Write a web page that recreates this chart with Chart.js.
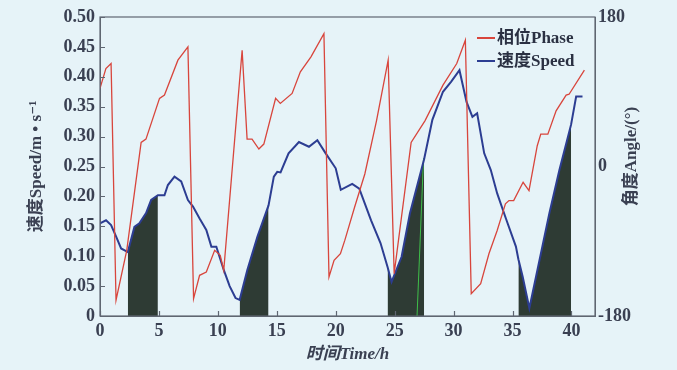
<!DOCTYPE html>
<html>
<head>
<meta charset="utf-8">
<script src="https://cdn.jsdelivr.net/npm/chart.js@4.4.0/dist/chart.umd.min.js"></script>
<style>
  html, body { margin: 0; padding: 0; background: #e6f3f8; }
  canvas { display: block; }
</style>
</head>
<body>
<canvas id="phaseChart" width="677" height="370"></canvas>
<script>
// speed (m/s) sampled along time (h)
const speedTime = [0, 0.51, 0.94, 1.36, 1.79, 2.36, 2.92, 3.34, 3.91, 4.34, 4.91, 5.47, 5.76, 6.32, 6.89, 7.46, 7.89,
  8.45, 9.02, 9.45, 9.87, 10.5, 11.0, 11.5, 11.85, 12.5, 13.36, 14.3, 14.75, 15.04, 15.32, 16.0, 16.88, 17.73, 18.44,
  19.15, 20.0, 20.43, 21.4, 22.0, 23.0, 23.8, 24.4, 24.74, 25.59, 26.3, 27.5, 28.2, 29.1, 29.8, 30.5, 31.1, 31.6,
  32.0, 32.6, 33.16, 33.7, 34.44, 35.29, 35.5, 35.86, 36.43, 37.0, 38.13, 38.98, 39.97, 40.4, 40.94];
const speedValues = [0.155, 0.160, 0.152, 0.133, 0.113, 0.107, 0.149, 0.155, 0.172, 0.194, 0.202, 0.202, 0.219, 0.233,
  0.225, 0.194, 0.183, 0.163, 0.144, 0.116, 0.116, 0.077, 0.05, 0.03, 0.027, 0.077, 0.133, 0.185, 0.233, 0.241, 0.24,
  0.272, 0.291, 0.283, 0.294, 0.272, 0.247, 0.211, 0.221, 0.213, 0.16, 0.122, 0.082, 0.057, 0.099, 0.172, 0.262,
  0.328, 0.375, 0.392, 0.411, 0.358, 0.333, 0.339, 0.272, 0.244, 0.205, 0.163, 0.116, 0.095, 0.066, 0.013, 0.066,
  0.172, 0.244, 0.32, 0.367, 0.367];

// phase angle (deg)
const phaseTime = [0, 0.5, 0.94, 1.36, 2.27, 3.49, 3.9, 5.05, 5.47, 6.61, 7.46, 7.94, 8.45, 9.02, 9.73, 10.2, 10.5,
  12.06, 12.48, 12.9, 13.48, 13.9, 14.9, 15.3, 16.3, 17.0, 17.9, 19.0, 19.43, 19.86, 20.4, 20.77, 21.6, 22.47, 23.46,
  24.45, 24.96, 26.4, 27.57, 29.1, 30.27, 31.0, 31.5, 32.3, 33.0, 33.7, 34.4, 34.7, 35.1, 35.9, 36.4, 37.1, 37.4,
  38.0, 38.7, 39.55, 39.8, 41.1];
const phaseValues = [94, 118, 124, -161, -101, 29, 33, 82, 86, 128, 144, -159, -131, -127, -101, -107, -125,
  140, 33, 33, 21, 27, 82, 76, 88, 114, 132, 160, -133, -113, -105, -89, -49, -9, 55,
  128, -129, 29, 55, 98, 124, 152, -153, -141, -105, -77, -45, -41, -41, -19, -29, 25, 39,
  39, 67, 86, 87, 116];

// shaded windows under the speed curve (h)
const shadedRanges = [[2.36, 4.91], [11.85, 14.3], [24.4, 27.5], [35.5, 39.97]];

// thin marker line
const markerTime = [26.9, 27.45];
const markerSpeed = [0, 0.264];

const xTicks = [0, 5, 10, 15, 20, 25, 30, 35, 40];
const speedTicks = [0, 0.05, 0.1, 0.15, 0.2, 0.25, 0.3, 0.35, 0.4, 0.45, 0.5];
const angleTicks = [-180, 0, 180];

const seriesLabels = ['相位Phase', '速度Speed'];
const redColor = '#d8453c';
const blueColor = '#2c3d92';
const shadeColor = '#2e3b34';
const inkColor = '#3a4052';
const frameColor = '#5f6672';
const serif = "'Liberation Serif', 'DejaVu Serif', 'Noto Sans CJK SC', serif";

const pts = (xs, ys) => xs.map((x, i) => ({ x: x, y: ys[i] }));

const speedPoints = pts(speedTime, speedValues);
const shadeSets = shadedRanges.map(([a, b]) => ({
  data: speedPoints.filter(p => p.x >= a && p.x <= b),
  yAxisID: 'y',
  borderWidth: 0,
  backgroundColor: shadeColor,
  fill: 'origin'
}));

const keepTicks = list => scale => {
  scale.ticks = list.map(v => ({ value: v }));
};

const tickFont = { family: serif, size: 18, weight: 'bold' };

// frame, inward ticks, legend and right-hand title
const framePlugin = {
  id: 'frame',
  afterDraw(chart) {
    const { ctx, chartArea: a, scales } = chart;
    ctx.save();
    ctx.strokeStyle = frameColor;
    ctx.lineWidth = 1.2;
    ctx.strokeRect(a.left, a.top, a.right - a.left, a.bottom - a.top);

    ctx.beginPath();
    scales.y.ticks.forEach(t => {
      const yy = Math.round(scales.y.getPixelForValue(t.value)) + 0.5;
      ctx.moveTo(a.left, yy);
      ctx.lineTo(a.left + 5, yy);
    });
    scales.x.ticks.forEach(t => {
      const xx = Math.round(scales.x.getPixelForValue(t.value)) + 0.5;
      ctx.moveTo(xx, a.bottom);
      ctx.lineTo(xx, a.bottom - 5);
    });
    ctx.stroke();

    // legend
    ctx.font = 'bold 17px ' + serif;
    ctx.textBaseline = 'middle';
    ctx.textAlign = 'left';
    [redColor, blueColor].forEach((c, i) => {
      const yy = 38 + i * 23;
      ctx.strokeStyle = c;
      ctx.lineWidth = 2;
      ctx.beginPath();
      ctx.moveTo(477, yy);
      ctx.lineTo(495, yy);
      ctx.stroke();
      ctx.fillStyle = '#2a3042';
      ctx.fillText(seriesLabels[i], 497, yy + 1);
    });

    // right axis title reads bottom-to-top
    ctx.translate(632, (a.top + a.bottom) / 2 - 10);
    ctx.rotate(-Math.PI / 2);
    ctx.textAlign = 'center';
    ctx.fillStyle = inkColor;
    ctx.fillText('角度Angle/(°)', 0, 0);
    ctx.restore();
  }
};

new Chart(document.getElementById('phaseChart').getContext('2d'), {
  type: 'line',
  data: {
    datasets: [
      {
        label: seriesLabels[0],
        data: pts(phaseTime, phaseValues),
        yAxisID: 'y1',
        borderColor: redColor,
        borderWidth: 1.3,
        fill: false
      },
      {
        label: seriesLabels[1],
        data: speedPoints,
        yAxisID: 'y',
        borderColor: blueColor,
        borderWidth: 2,
        fill: false
      },
      {
        data: pts(markerTime, markerSpeed),
        yAxisID: 'y',
        borderColor: '#3fbf4a',
        borderWidth: 1,
        fill: false
      },
      ...shadeSets
    ]
  },
  options: {
    responsive: false,
    animation: false,
    layout: { padding: { top: 17, left: 0, right: 0, bottom: 0 } },
    elements: { point: { radius: 0 }, line: { tension: 0 } },
    plugins: { legend: { display: false }, tooltip: { enabled: false } },
    scales: {
      x: {
        type: 'linear',
        min: 0,
        max: 42,
        afterBuildTicks: keepTicks(xTicks),
        afterFit: s => { s.height = 54; },
        grid: { display: false, drawTicks: false },
        border: { color: frameColor },
        ticks: { padding: 5, color: inkColor, font: tickFont, maxRotation: 0 },
        title: {
          display: true,
          text: '时间Time/h',
          color: inkColor,
          font: { family: serif, size: 17, weight: 'bold', style: 'italic' },
          padding: { top: 0, bottom: 5 }
        }
      },
      y: {
        position: 'left',
        min: 0,
        max: 0.5,
        afterBuildTicks: keepTicks(speedTicks),
        afterFit: s => { s.width = 100; },
        grid: { display: false, drawTicks: false },
        border: { color: frameColor },
        ticks: {
          padding: 5,
          color: inkColor,
          font: tickFont,
          callback: v => (v === 0 ? '0' : v.toFixed(2))
        },
        title: {
          display: true,
          text: '速度Speed/m • s⁻¹',
          color: inkColor,
          font: { family: serif, size: 17, weight: 'bold' },
          padding: { top: 26, bottom: 0 }
        }
      },
      y1: {
        position: 'right',
        min: -180,
        max: 180,
        afterBuildTicks: keepTicks(angleTicks),
        afterFit: s => { s.width = 82; },
        grid: { display: false, drawTicks: false },
        border: { color: frameColor },
        ticks: { padding: 3, color: inkColor, font: tickFont }
      }
    }
  },
  plugins: [framePlugin]
});
</script>
</body>
</html>
